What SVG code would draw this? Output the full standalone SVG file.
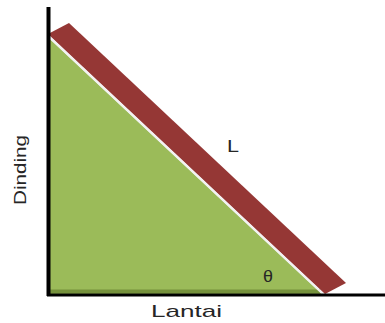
<svg xmlns="http://www.w3.org/2000/svg" width="385" height="323" viewBox="0 0 385 323">
<style>
.lbl{font-family:"Liberation Sans",Arial,sans-serif;fill:#262626;font-size:17px;}
</style>
<rect width="385" height="323" fill="#fff"/>
<g id="band">
<polygon points="48,34 69,23 346,283 325,294" fill="#953735"/>
</g>
<g id="triangle">
<polygon points="50,39 50,294 322,294" fill="#9bbb59"/>
<line x1="50" y1="291.5" x2="320" y2="291.5" stroke="#76923c" stroke-width="4"/>
<line x1="49" y1="37" x2="323" y2="294" stroke="#f2f2f2" stroke-width="2"/>
</g>
<g id="axes">
<line x1="48.5" y1="7" x2="48.5" y2="296" stroke="#000" stroke-width="4"/>
<line x1="47" y1="295" x2="385" y2="295" stroke="#000" stroke-width="3"/>
</g>
<text class="lbl" x="263" y="282" textLength="10" lengthAdjust="spacingAndGlyphs">θ</text>
<text class="lbl" x="227" y="152" textLength="12" lengthAdjust="spacingAndGlyphs">L</text>
<text class="lbl" x="151" y="317" textLength="71" lengthAdjust="spacingAndGlyphs">Lantai</text>
<text class="lbl" x="0" y="0" textLength="70" lengthAdjust="spacingAndGlyphs" transform="translate(26,205) rotate(-90)">Dinding</text>
</svg>
